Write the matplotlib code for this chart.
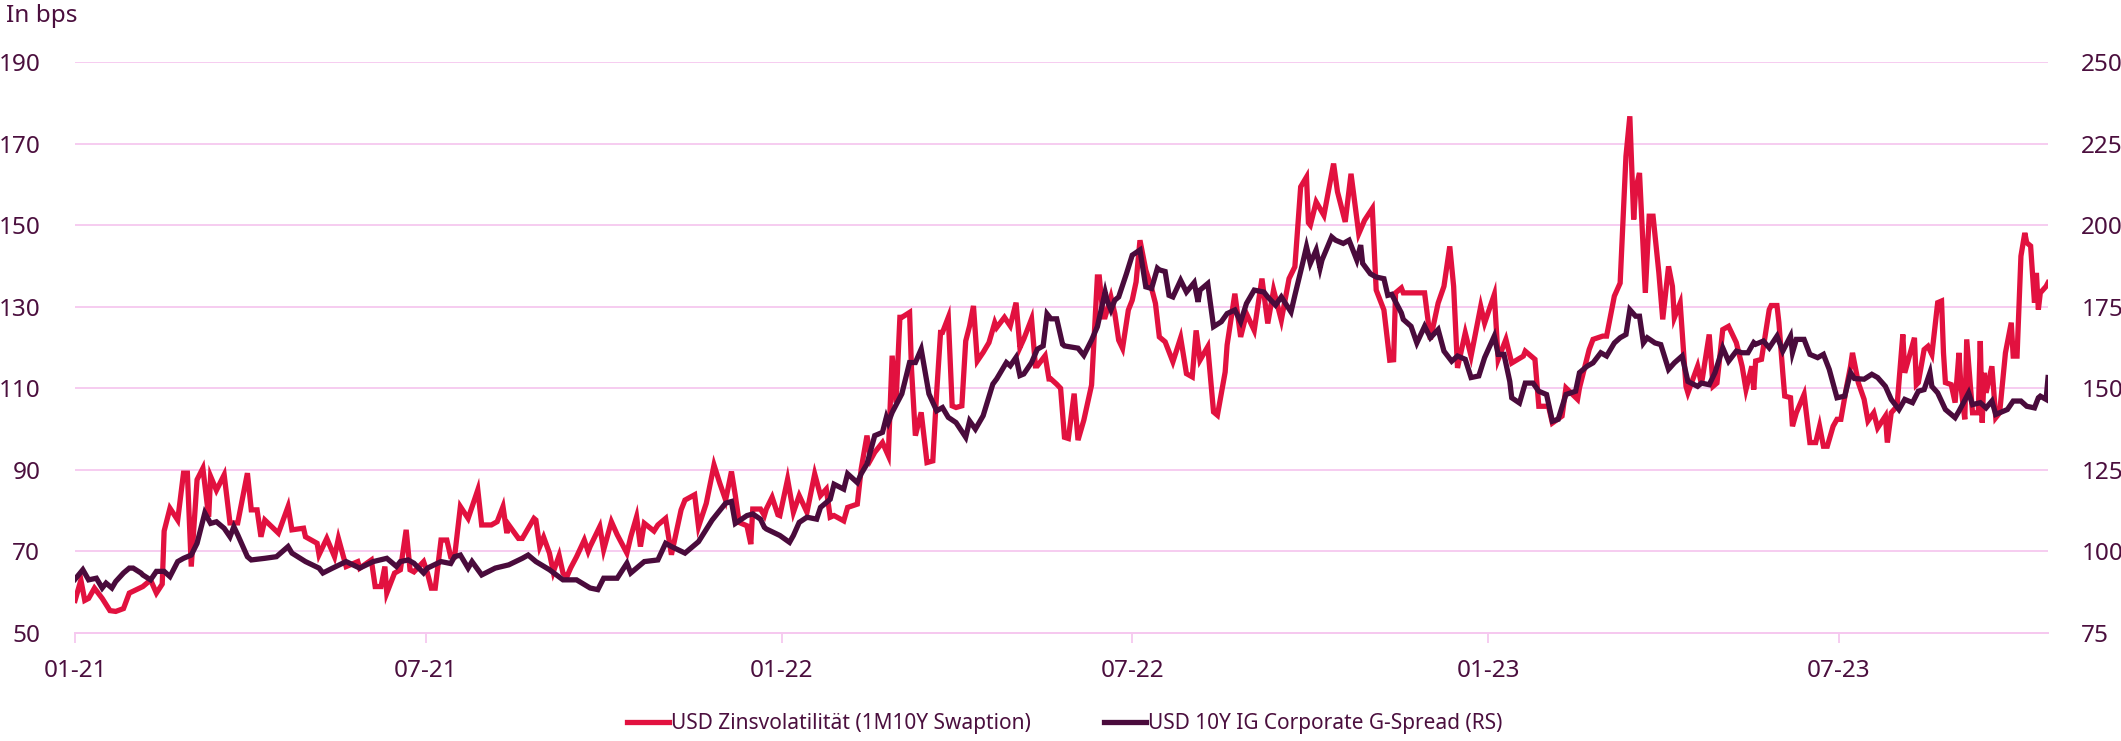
import matplotlib
matplotlib.use("Agg")
from matplotlib import pyplot as plt
import matplotlib.dates as mdates
import pandas as pd

# colours
RED = "#e2113f"
PLUM = "#4a0b3c"
TEXT = "#4b0f3e"
GRID = "#f6c8ef"

start = pd.Timestamp("2021-01-01")

# USD Zinsvolatilitaet (1M10Y Swaption), left axis, days since 2021-01-01
vol_days = [
    0, 3, 5, 7, 10, 14, 18, 21, 25, 28, 35, 39, 42, 45, 46, 49, 53, 56, 58, 60,
    63, 66, 69, 70, 73, 77, 80, 84, 89, 91, 94, 96, 98, 105, 110, 112, 118, 119, 125, 126,
    130, 134, 136, 140, 146, 147, 153, 155, 158, 160, 161, 165, 168, 171, 173, 175, 180, 182, 184, 186,
    189, 192, 194, 196, 199, 203, 208, 210, 215, 218, 221, 223, 224, 229, 231, 237, 238, 240, 242, 245,
    247, 250, 252, 254, 256, 259, 263, 265, 266, 271, 273, 277, 280, 285, 287, 290, 292, 294, 299, 301,
    305, 308, 313, 315, 320, 322, 326, 330, 333, 336, 339, 341, 343, 347, 349, 350, 354, 356, 357, 360,
    363, 364, 368, 371, 374, 378, 382, 385, 388, 390, 392, 397, 399, 404, 406, 409, 411, 413, 417, 420,
    422, 424, 426, 427, 431, 432, 434, 437, 440, 443, 445, 447, 448, 451, 453, 455, 458, 460, 462, 464,
    466, 469, 472, 475, 476, 480, 483, 486, 488, 490, 494, 496, 497, 501, 503, 504, 507, 509, 511, 513,
    516, 518, 521, 525, 528, 529, 531, 532, 535, 537, 539, 541, 544, 546, 548, 550, 553, 556, 558, 560,
    563, 567, 571, 574, 577, 579, 581, 585, 588, 590, 594, 595, 599, 602, 605, 609, 613, 616, 619, 623,
    627, 630, 633, 636, 637, 638, 641, 645, 650, 652, 656, 659, 663, 666, 670, 672, 676, 679, 681, 682,
    685, 686, 693, 697, 700, 704, 707, 710, 712, 714, 718, 721, 726, 728, 733, 735, 739, 742, 748, 749,
    754, 756, 761, 763, 768, 770, 776, 777, 782, 784, 789, 791, 795, 798, 801, 803, 805, 806, 808, 811,
    813, 815, 818, 820, 823, 825, 826, 829, 832, 833, 838, 840, 844, 846, 848, 851, 854, 858, 861, 863,
    866, 867, 868, 871, 875, 876, 879, 880, 882, 883, 886, 887, 889, 893, 896, 899, 901, 903, 905, 908,
    910, 912, 915, 917, 918, 921, 924, 926, 929, 931, 935, 936, 938, 941, 944, 945, 950, 951, 952, 955,
    957, 959, 962, 964, 965, 966, 969, 971, 973, 974, 976, 977, 980, 983, 984, 985, 986, 987, 990, 992,
    994, 997, 1000, 1001, 1003, 1005, 1007, 1008, 1010, 1012, 1013, 1014, 1015, 1018, 1019,
]
vol = [
    58, 63, 58, 58.5, 61, 58.5, 55.5, 55.3, 56, 59.8, 61.4, 63, 59.8, 62, 75, 80.6, 77.7, 89.2, 89.2, 66.3,
    87.6, 90.4, 78.5, 88.4, 85, 88.8, 77, 77, 89.2, 80.2, 80.2, 73.6, 77.7, 74.5, 81, 75.3, 75.7, 73.6, 72, 69.2,
    73.2, 68.7, 73.2, 66.3, 67.5, 65.9, 67.9, 61.4, 61.4, 66.3, 59.8, 64.7, 65.5, 75.3, 65.5, 65, 67.5, 64.7, 61, 61,
    72.8, 72.8, 68.7, 68.7, 81, 78.1, 85.1, 76.5, 76.5, 77.3, 81, 74.5, 76.5, 73.2, 73.2, 78.1, 77.7, 71.2, 73.5, 69.6,
    65, 69, 64.7, 63.8, 66, 68.7, 72.8, 70, 71.2, 76.1, 70.4, 77.3, 74.1, 69.6, 73.6, 78.5, 71.2, 76.9, 75, 76.5,
    78.1, 69.2, 80.2, 82.6, 83.9, 76.1, 81.8, 91.2, 86.7, 82.6, 89.6, 83.7, 77.1, 76.3, 71.8, 80.4, 80.4, 78.8, 80.4, 83.3,
    79, 78.8, 87.7, 79.6, 83.7, 79.6, 89, 83.7, 85.3, 78.4, 78.8, 77.5, 80.8, 81.6, 90.2, 98.4, 92.6, 94.3, 96.7, 93.5,
    118, 106.5, 127.4, 127.4, 128.6, 114.7, 98.4, 104.1, 91.8, 92.2, 109, 123.7, 123.7, 127.4, 105.7, 105.3, 105.7, 121.6, 125.3, 130.2,
    116.7, 118.8, 121.2, 126.1, 124.9, 127.4, 125.3, 131, 120, 122.1, 127, 115.5, 115.5, 118, 112.3, 112.3, 111, 110, 98, 97.7,
    108.7, 97.3, 102.2, 110.8, 137.3, 137.3, 127.5, 127.5, 132.4, 128.3, 121.8, 119.8, 129.2, 131.6, 136.1, 146.3, 139, 134.5, 130.8, 122.6,
    121.4, 116.5, 122.4, 113.6, 112.8, 124.2, 116.9, 120.2, 104.2, 103.4, 114, 120.6, 133.2, 122.6, 128.3, 124.2, 136.9, 125.9, 134.1, 126.7,
    136.9, 139.8, 159.4, 161.8, 150.6, 150, 155.7, 152.4, 165.1, 158.2, 150.8, 162.6, 147.9, 151.2, 154.1, 134.1, 129.2, 116.9, 117, 133.4,
    134.6, 133.4, 133.4, 133.4, 122, 130.9, 135, 144.8, 135, 115, 123.6, 117.9, 130.1, 126, 133, 117.1, 122, 116.2, 117.9, 119.1,
    117.1, 105.6, 105.6, 101.5, 103.2, 110.1, 107.3, 110.1, 119.5, 122, 122.8, 122.8, 132.6, 135.8, 166.9, 176.7, 151.4, 158.7, 162.8, 133.4,
    152.2, 152.2, 138.3, 126.9, 139.9, 135, 127.3, 130.9, 110.5, 108.9, 115.4, 111, 123.2, 110.5, 111.3, 124.4, 125.2, 121.2, 115.4, 109.7,
    115.4, 109.7, 116.7, 117.1, 129.3, 130.3, 130.3, 126.1, 113.8, 108.1, 107.7, 100.7, 104, 108.5, 96.7, 96.7, 100.7, 95.8, 95.8, 100.7,
    102.4, 102.4, 110.5, 115.4, 118.7, 111.4, 107.3, 102, 104, 100.3, 103.2, 96.7, 104, 105.6, 123.2, 113.8, 122.4, 110.9, 111.4, 119.5,
    120.3, 118.3, 131, 131.4, 118.7, 111.4, 110.9, 106.5, 118.7, 110.5, 102.4, 122, 104, 104, 121.6, 101.6, 113.8, 108.9, 115.4, 102.8,
    104, 118.7, 126.1, 117.9, 117.9, 142.4, 148.1, 145.7, 144.9, 131, 138.3, 129.3, 133.4, 135, 135.9,
]

# USD 10Y IG Corporate G-Spread, right axis, days since 2021-01-01
spread_days = [
    0, 4, 7, 11, 14, 16, 19, 21, 25, 28, 30, 34, 35, 39, 42, 46, 49, 53, 56, 60,
    63, 67, 70, 73, 77, 80, 82, 84, 89, 91, 98, 104, 110, 112, 119, 126, 128, 133, 140, 147,
    154, 161, 166, 168, 172, 175, 180, 182, 189, 194, 196, 199, 203, 205, 210, 217, 224, 231, 234, 238,
    245, 252, 259, 266, 270, 273, 280, 285, 287, 294, 301, 305, 308, 315, 322, 329, 336, 339, 341, 343,
    347, 350, 354, 356, 357, 364, 369, 371, 374, 378, 383, 385, 390, 392, 397, 399, 404, 406, 409, 413,
    417, 419, 420, 422, 427, 431, 434, 437, 441, 445, 448, 451, 455, 460, 462, 465, 469, 474, 476, 481,
    483, 486, 488, 490, 494, 497, 500, 502, 504, 507, 510, 511, 518, 521, 525, 528, 532, 533, 535, 537,
    539, 543, 546, 550, 553, 556, 559, 560, 563, 565, 567, 571, 574, 578, 580, 581, 585, 588, 592, 595,
    599, 602, 605, 609, 614, 616, 620, 623, 628, 630, 634, 636, 638, 641, 643, 644, 649, 651, 655, 658,
    662, 664, 665, 669, 672, 676, 678, 680, 685, 686, 690, 693, 697, 700, 704, 707, 711, 714, 718, 721,
    725, 728, 733, 735, 738, 741, 742, 746, 749, 753, 756, 760, 763, 766, 770, 775, 777, 781, 784, 788,
    791, 795, 798, 801, 803, 806, 808, 810, 812, 816, 819, 823, 826, 830, 833, 838, 840, 844, 847, 851,
    854, 858, 861, 864, 867, 868, 872, 875, 879, 882, 886, 887, 889, 893, 896, 900, 903, 906, 910, 914,
    917, 919, 924, 928, 931, 935, 938, 942, 945, 949, 952, 955, 958, 959, 962, 966, 971, 973, 978, 980,
    984, 987, 990, 992, 994, 998, 1001, 1005, 1008, 1012, 1014, 1015, 1018, 1019,
]
spread = [
    91.5, 94.4, 91.3, 91.8, 88.8, 90.3, 88.8, 90.8, 93.4, 94.9, 94.9, 93.4, 92.8, 91.3, 93.9, 93.9, 92.3, 96.9, 97.9, 98.9,
    102.5, 111.8, 108.6, 109.1, 107.1, 104.5, 107.6, 105.1, 98.4, 97.4, 97.9, 98.4, 101.5, 99.5, 96.9, 94.9, 93.4, 94.9, 96.9, 94.9,
    96.9, 97.9, 95.4, 96.9, 97.4, 96.4, 93.4, 94.9, 96.9, 96.3, 98.4, 98.9, 94.9, 96.9, 92.8, 94.9, 95.9, 97.9, 98.9, 96.9,
    94.4, 91.3, 91.3, 88.8, 88.3, 91.8, 91.8, 96.4, 93.4, 96.9, 97.4, 102.5, 101.5, 99.5, 103, 109.6, 114.8, 115.3, 108.6, 109.4,
    111, 111.5, 109.9, 107.4, 106.9, 104.9, 102.8, 104.9, 108.9, 110.5, 109.9, 113.5, 116, 120.6, 119.1, 123.8, 121.1, 123.8, 126.8, 135.5,
    136.5, 141.1, 139.5, 142.6, 148.3, 157.9, 157.9, 162, 148.3, 143.1, 144.1, 141.1, 139.5, 135, 140, 137.5, 141.6, 151.3, 152.9, 157.9,
    156.9, 159.5, 153.9, 154.4, 157.9, 162, 163, 172.8, 171.3, 171.3, 163.5, 163, 162.3, 160.1, 164.8, 168.9, 179.5, 177, 174, 177,
    178, 185.1, 190.8, 192.4, 181.1, 180.6, 186.8, 186.3, 185.8, 178.5, 178, 183.1, 179.5, 182.4, 176.5, 180.1, 182.1, 168.9, 170.4, 172.9,
    174, 170.4, 176, 180.1, 179.5, 178, 175.5, 178, 173.4, 178.5, 188.3, 193.4, 188.3, 192.4, 186.8, 189.3, 196.4, 195.4, 194.4, 195.4,
    189.3, 193.9, 188.3, 185.1, 184.1, 183.6, 178.5, 178.8, 173.1, 171.1, 169, 163.9, 169, 165.5, 168, 161.4, 158.3, 159.9, 158.9, 153.3,
    153.8, 159.4, 166, 160.4, 160.4, 152.1, 147.1, 145.5, 151.6, 151.6, 149.1, 148.1, 139.9, 140.5, 148.1, 149.1, 154.8, 156.8, 157.8, 160.9,
    159.9, 163.9, 165.5, 166.5, 174.1, 172.1, 172.1, 163.9, 165.5, 163.9, 163.4, 155.8, 157.8, 159.9, 152.1, 150.6, 151.6, 151.1, 154.8, 162.4,
    158.3, 161.4, 160.9, 160.9, 164, 163.5, 164.5, 162.4, 166, 161.4, 166, 160.9, 165, 165, 160.4, 159.4, 160.4, 155.8, 147.1, 147.6,
    154.8, 153, 152.8, 154.3, 153.3, 150.6, 146.6, 143.5, 146.6, 145.6, 149.1, 149.6, 154.8, 150.6, 148.6, 143.5, 141, 143, 148.6, 145,
    145.6, 144, 146.1, 142, 142.5, 143.5, 146.1, 146.1, 144.5, 144, 147.1, 147.6, 146.6, 153.3,
]

xtick_dates = ["2021-01-01", "2021-07-01", "2022-01-01", "2022-07-01", "2023-01-01", "2023-07-01"]
left_ticks = [50, 70, 90, 110, 130, 150, 170, 190]
right_ticks = [75, 100, 125, 150, 175, 200, 225, 250]

plt.rcParams["font.family"] = ["Noto Sans", "DejaVu Sans"]

vol_dates = start + pd.to_timedelta(vol_days, unit="D")
spread_dates = start + pd.to_timedelta(spread_days, unit="D")

fig = plt.figure(figsize=(21.21, 7.41), dpi=100)
ax = fig.add_axes([0.0354, 0.1457, 0.9302, 0.7706])
ax2 = ax.twinx()

l1, = ax.plot(vol_dates, vol, color=RED, lw=3.8, solid_joinstyle="miter",
              label="USD Zinsvolatilität (1M10Y Swaption)")
l2, = ax2.plot(spread_dates, spread, color=PLUM, lw=3.8, solid_joinstyle="miter",
               label="USD 10Y IG Corporate G-Spread (RS)")

ax.set_xlim(start, start + pd.Timedelta(days=1019))
ax.set_ylim(50, 190)
ax2.set_ylim(75, 250)
ax.set_yticks(left_ticks)
ax2.set_yticks(right_ticks)
ax.set_xticks(pd.to_datetime(xtick_dates))
ax.xaxis.set_major_formatter(mdates.DateFormatter("%m-%y"))

ax.grid(axis="y", color=GRID, lw=1.3)
ax.set_axisbelow(True)
for a in (ax, ax2):
    for s in ("top", "left", "right"):
        a.spines[s].set_visible(False)
    a.spines["bottom"].set_color(GRID)
    a.spines["bottom"].set_linewidth(1.3)

ax.tick_params(axis="y", length=0, pad=25, labelsize=17.5, labelcolor=TEXT)
ax2.tick_params(axis="y", length=0, pad=24, labelsize=17.5, labelcolor=TEXT)
ax.tick_params(axis="x", length=7, width=1.3, color=GRID, pad=12, labelsize=17.5, labelcolor=TEXT)

fig.text(0.003, 1 - 16 / 741, "In bps", fontsize=17.5, color=TEXT, va="center", ha="left")

fig.legend(handles=[l1, l2], loc="center", bbox_to_anchor=(0.502, 1 - 724 / 741), ncol=2,
           frameon=False, fontsize=15, labelcolor=TEXT, handlelength=2.0, handletextpad=0.1,
           columnspacing=3.5)

fig.savefig("out.png", dpi=100)
